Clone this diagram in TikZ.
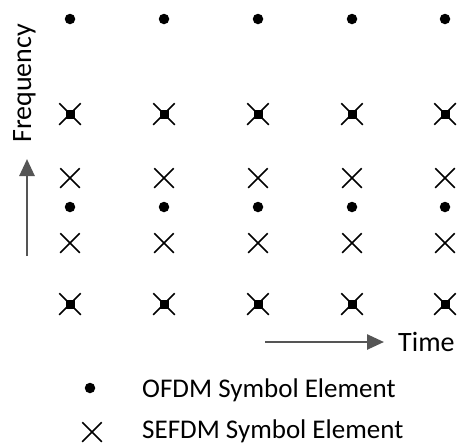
\documentclass[tikz,border=0pt]{standalone}
\usepackage{fontspec}
\setmainfont{Carlito}
\usetikzlibrary{arrows.meta,shapes.misc}
\definecolor{axisgray}{RGB}{85,85,85}
\begin{document}
\begin{tikzpicture}[x=1pt,y=-1pt,
  ofdm/.style={circle,fill=black,inner sep=0pt,minimum size=10.5pt},
  sefdm/.style={cross out,draw=black,line width=1.5pt,inner sep=0pt,minimum size=18pt},
  bigsefdm/.style={sefdm,minimum size=20pt},
  core/.style={rectangle,fill=black,inner sep=0pt,minimum size=9pt},
  axisarrow/.style={draw=axisgray,line width=2.6pt,-{Triangle[length=17pt,width=15pt]}},
  axislabel/.style={font=\fontsize{28}{32}\selectfont,inner sep=0pt},
  legendtext/.style={font=\fontsize{27}{32}\selectfont,inner sep=0pt,anchor=base west}]
\useasboundingbox (0,0) rectangle (458,445);

% symbol grid: five time slots
\foreach \i/\x in {1/70,2/164,3/258,4/352,5/445}{
  \node[ofdm] (o1-\i) at (\x,19) {};
  \node[core] (q1-\i) at (\x,114) {};
  \node[bigsefdm] (s1-\i) at (\x,114) {};
  \node[sefdm] (s2-\i) at (\x,178) {};
  \node[ofdm] (o2-\i) at (\x,207) {};
  \node[sefdm] (s3-\i) at (\x,243) {};
  \node[core] (q2-\i) at (\x,304) {};
  \node[bigsefdm] (s4-\i) at (\x,304) {};
}

% axes
\coordinate (fstart) at (27,256);
\coordinate (fend) at (27,159);
\draw[axisarrow] (fstart) -- (fend);
\node[axislabel,rotate=90,anchor=base west] (freq) at (31,143) {Frequency};

\coordinate (tstart) at (265,342);
\coordinate (tend) at (384,342);
\draw[axisarrow] (tstart) -- (tend);
\node[axislabel,anchor=base west] (time) at (398,351) {Time};

% legend
\node[ofdm] (lo) at (90,388) {};
\node[legendtext] (lot) at (142,397) {OFDM Symbol Element};
\node[sefdm] (ls) at (92,432) {};
\node[legendtext] (lst) at (142,438) {SEFDM Symbol Element};
\end{tikzpicture}
\end{document}
